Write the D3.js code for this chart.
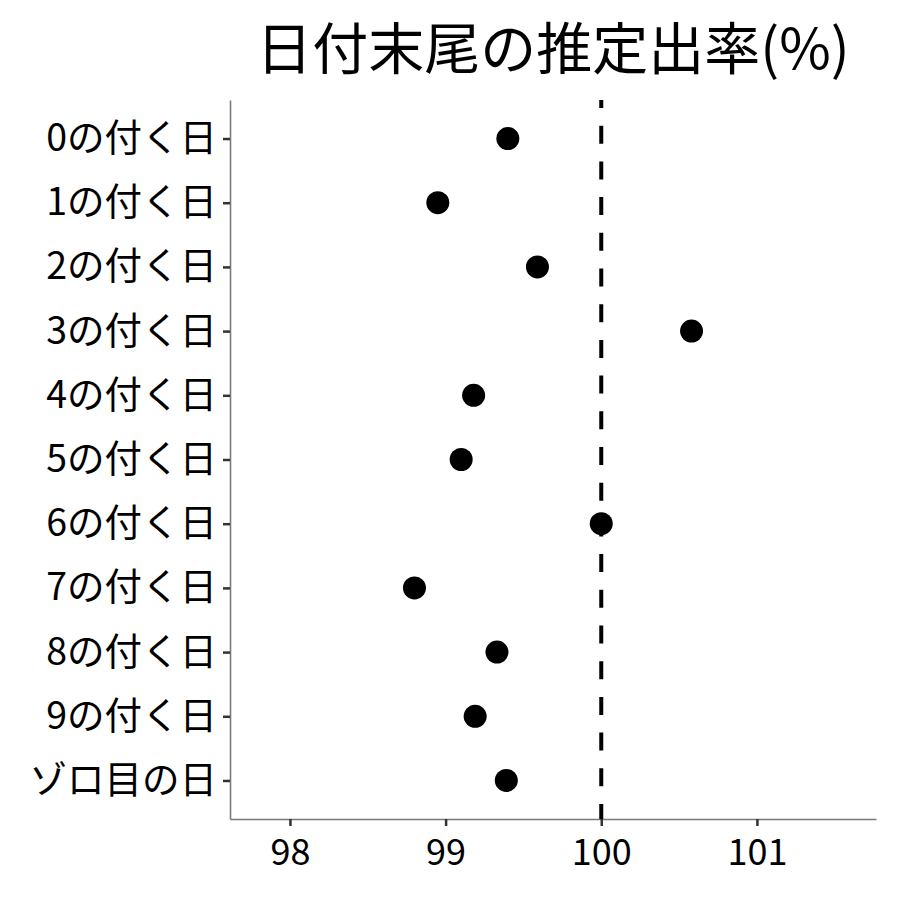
<!DOCTYPE html>
<meta charset="utf-8">
<script src="https://d3js.org/d3.v7.min.js"></script>
<style>
  body { margin: 0; background: #fff; }
  text { font-family: "Noto Sans CJK JP", "Noto Sans", sans-serif; }
</style>
<div id="my_dataviz"></div>
<script>

// data
var categories = ["0の付く日", "1の付く日", "2の付く日", "3の付く日", "4の付く日",
                  "5の付く日", "6の付く日", "7の付く日", "8の付く日", "9の付く日", "ゾロ目の日"];
var rates = [99.40, 98.95, 99.59, 100.58, 99.18, 99.10, 100.0, 98.80, 99.33, 99.19, 99.39];
var xTicks = [98, 99, 100, 101];
var refValue = 100;
var title = "日付末尾の推定出率(%)";

var data = categories.map(function(c, i) { return {cat: c, rate: rates[i]}; });

// dimensions
var margin = {top: 100, right: 24, bottom: 81, left: 230},
    width = 900 - margin.left - margin.right,
    height = 900 - margin.top - margin.bottom;

var svg = d3.select("#my_dataviz")
  .append("svg")
    .attr("width", 900)
    .attr("height", 900)
  .append("g")
    .attr("transform", "translate(" + margin.left + "," + margin.top + ")");

// scales
var x = d3.scaleLinear()
  .domain([97.615, 101.765])
  .range([0, width]);

var y = d3.scalePoint()
  .domain(categories)
  .range([0, height])
  .padding(0.6);

// X axis
var xAxis = svg.append("g")
  .attr("transform", "translate(0," + height + ")")
  .call(d3.axisBottom(x).tickValues(xTicks).tickSizeInner(7).tickSizeOuter(0)
    .tickPadding(13).tickFormat(d3.format("d")));
xAxis.select(".domain").attr("stroke", "#7a7a7a").attr("stroke-width", 1.6);
xAxis.selectAll(".tick line").attr("stroke", "#333").attr("stroke-width", 2.5);
xAxis.selectAll(".tick text")
  .attr("fill", "#000")
  .style("font-size", "36px")
  .style("font-family", "'Noto Sans CJK JP', sans-serif");

// Y axis
var yAxis = svg.append("g")
  .call(d3.axisLeft(y).tickSizeInner(7).tickSizeOuter(0).tickPadding(6));
yAxis.select(".domain").attr("stroke", "#7a7a7a").attr("stroke-width", 1.6);
yAxis.selectAll(".tick line").attr("stroke", "#333").attr("stroke-width", 2.5);
yAxis.selectAll(".tick text")
  .attr("fill", "#000")
  .style("font-size", "37.5px")
  .style("font-family", "'Noto Sans CJK JP', sans-serif");

// reference line at 100
svg.append("line")
  .attr("x1", x(refValue))
  .attr("x2", x(refValue))
  .attr("y1", 0)
  .attr("y2", height)
  .attr("stroke", "#000")
  .attr("stroke-width", 4)
  .attr("stroke-dasharray", "18,17.7")
  .attr("stroke-dashoffset", 10);

// points
svg.append("g")
  .selectAll("circle")
  .data(data)
  .enter()
  .append("circle")
    .attr("cx", function(d) { return x(d.rate); })
    .attr("cy", function(d) { return y(d.cat); })
    .attr("r", 11.5)
    .style("fill", "#000");

// title
svg.append("text")
  .attr("x", width / 2)
  .attr("y", -31)
  .attr("text-anchor", "middle")
  .style("font-size", "56px")
  .text(title);

</script>
